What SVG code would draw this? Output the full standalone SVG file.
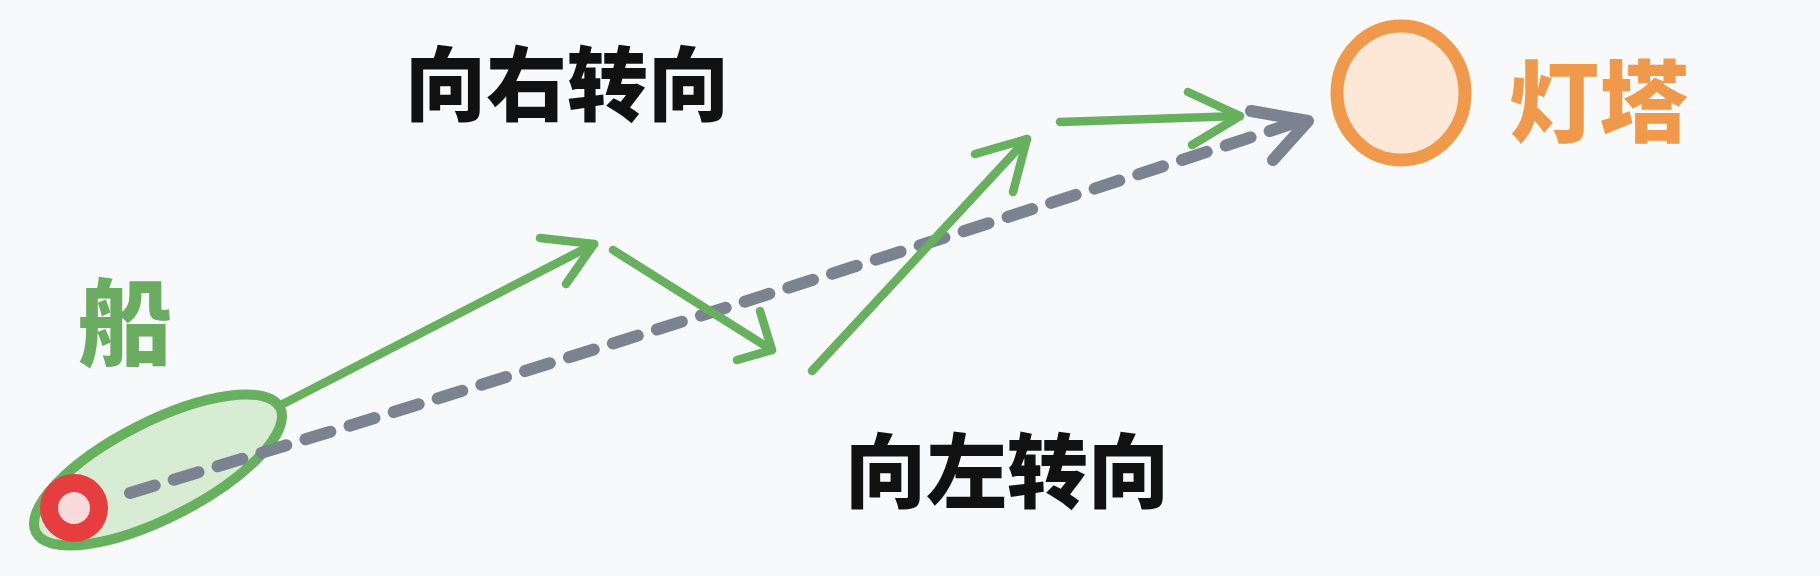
<svg xmlns="http://www.w3.org/2000/svg" width="1820" height="576" viewBox="0 0 1820 576">
  <style>
    .route { fill: none; stroke: #66b05e; stroke-width: 8.5; stroke-linecap: round; stroke-linejoin: round; }
    .direct { fill: none; stroke: #7b8390; stroke-width: 12; stroke-linecap: round; stroke-linejoin: round; }
    .label { font-family: "Noto Sans CJK SC", "Noto Sans", sans-serif; font-weight: 900; text-anchor: middle; }
  </style>
  <rect width="1820" height="576" fill="#f7f9fa"/>
  <g id="boat">
    <ellipse cx="158" cy="470" rx="137" ry="48" transform="rotate(-27 158 470)" fill="#d8ecd4" stroke="#66b05e" stroke-width="10"/>
    <circle cx="74" cy="508" r="25" fill="#f7dada" stroke="#e63e3e" stroke-width="18"/>
    <text class="label" x="125" y="358" font-size="94" fill="#6aac60">船</text>
  </g>
  <g id="lighthouse">
    <ellipse cx="1401" cy="93" rx="64" ry="67" fill="#fde8d7" stroke="#f0994a" stroke-width="13"/>
    <text class="label" x="1599" y="135" font-size="90" fill="#f0994a">灯塔</text>
  </g>
  <g id="label-right">
    <text class="label" x="567" y="114" font-size="81" fill="#111">向右转向</text>
  </g>
  <g id="label-left">
    <text class="label" x="1007" y="501" font-size="81" fill="#111">向左转向</text>
  </g>
  <g id="connectors">
    <path class="direct" d="M130 493 Q 700 320 1300 121" stroke-dasharray="26 20"/>
    <path class="direct" d="M1251 111 L1308 121 L1273 160"/>
    <path class="route" d="M279 406 L594 244"/>
    <path class="route" d="M540 238 L594 244 L566 284"/>
    <path class="route" d="M613 250 L772 350"/>
    <path class="route" d="M737 360 L772 350 L760 311"/>
    <path class="route" d="M812 371 L1027 139"/>
    <path class="route" d="M975 154 L1027 139 L1013 192"/>
    <path class="route" d="M1060 122 L1240 116"/>
    <path class="route" d="M1188 92 L1240 116 L1192 145"/>
  </g>
</svg>
